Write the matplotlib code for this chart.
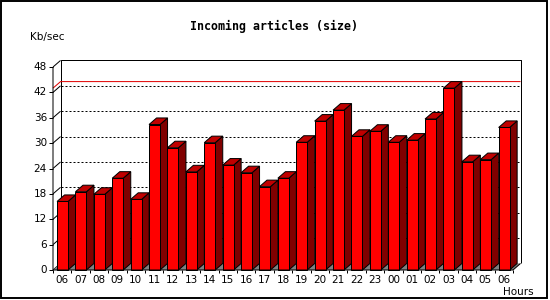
import matplotlib
matplotlib.use("Agg")
import matplotlib.pyplot as plt
from matplotlib.patches import Polygon, Rectangle

hours = ["06", "07", "08", "09", "10", "11", "12", "13", "14", "15", "16", "17", "18",
         "19", "20", "21", "22", "23", "00", "01", "02", "03", "04", "05", "06"]
kbsec = [16.2, 18.5, 17.9, 21.7, 16.7, 34.4, 28.9, 23.2, 30.1, 24.8, 23.0, 19.7, 21.7,
         30.2, 35.2, 37.8, 31.6, 32.8, 30.2, 30.7, 35.7, 43.0, 25.6, 26.1, 33.7]
yticks = [0, 6, 12, 18, 24, 30, 36, 42, 48]

W, H = 550, 300
DX, DY = 0.41, 1.55          # 3d depth in category / value units
LW = 0.72                    # 1 px
FRONT, TOP, SIDE, FLOOR = "#ff0000", "#c00000", "#800000", "#808080"

fig = plt.figure(figsize=(W / 100, H / 100), dpi=100)
fig.patch.set_facecolor("white")
ax = fig.add_axes([53 / W, 30 / H, 460 / W, 203 / H])
n = len(hours)
ymax = yticks[-1]
ax.set_xlim(0, n)
ax.set_ylim(0, ymax)
ax.axis("off")


def line(xs, ys, **kw):
    kw.setdefault("color", "black")
    kw.setdefault("lw", LW)
    ax.plot(xs, ys, clip_on=False, solid_capstyle="butt", **kw)


# back walls
line([DX, DX, n + DX, n + DX], [DY, ymax + DY, ymax + DY, DY], zorder=1)
for v in yticks[1:-1]:
    line([DX, n + DX], [v + DY, v + DY], ls=(0, (2, 2)), zorder=1)
for v in yticks:
    line([0, DX], [v, v + DY], zorder=1)

# max line
top = max(kbsec)
line([0, DX, n + DX], [top, top + DY, top + DY], color="#e00000", zorder=1.5)

# floor
ax.add_patch(Polygon([(0, 0), (n, 0), (n + DX, DY), (DX, DY)], closed=True,
                     facecolor=FLOOR, edgecolor="none", zorder=2, clip_on=False))

# bars
x0, bw = 0.22, 0.595
for i, v in enumerate(kbsec):
    l, r = i + x0, i + x0 + bw
    ax.add_patch(Polygon([(r, 0), (r + DX, DY), (r + DX, v + DY), (r, v)], closed=True,
                         facecolor=SIDE, edgecolor="black", lw=LW, zorder=3, clip_on=False))
    ax.add_patch(Polygon([(l, v), (r, v), (r + DX, v + DY), (l + DX, v + DY)], closed=True,
                         facecolor=TOP, edgecolor="black", lw=LW, zorder=3, clip_on=False))
    ax.add_patch(Rectangle((l, 0), bw, v, facecolor=FRONT, edgecolor="black", lw=LW,
                           zorder=4, clip_on=False))

# front axes
line([0, 0, n, n + DX], [ymax, 0, 0, DY], zorder=5)
for v in yticks:
    line([-0.2, 0], [v, v], zorder=5)
    ax.text(-0.33, v, str(v), ha="right", va="center", fontsize=7.5,
            family="DejaVu Sans", clip_on=False)
for i in range(n + 1):
    line([i, i], [0, -0.75], zorder=5)
for i, h in enumerate(hours):
    ax.text(i + 0.5, -1.15, h, ha="center", va="top", fontsize=7.5,
            family="DejaVu Sans", clip_on=False)

fig.text(274 / W, 1 - 26 / H, "Incoming articles (size)", ha="center", va="center",
         fontsize=8.4, fontweight="bold", family="DejaVu Sans Mono")
fig.text(30 / W, 1 - 37 / H, "Kb/sec", ha="left", va="center", fontsize=7.5,
         family="DejaVu Sans")
fig.text(534 / W, 1 - 292 / H, "Hours", ha="right", va="center", fontsize=7.5,
         family="DejaVu Sans")

# outer frame
fig.add_artist(Rectangle((1 / W, 2 / H), 546 / W, 297 / H, transform=fig.transFigure,
                         fill=False, edgecolor="black", lw=1.4))

fig.savefig("out.png", dpi=100)
